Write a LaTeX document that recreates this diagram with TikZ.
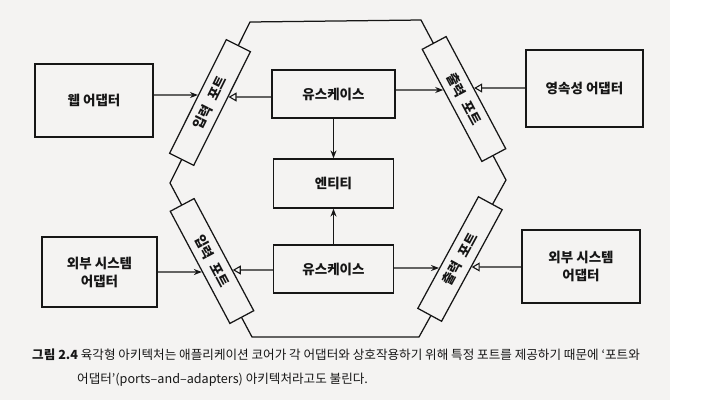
\documentclass[tikz,border=0pt]{standalone}
\usepackage{fontspec}
\setmainfont{Noto Sans CJK KR}
\usetikzlibrary{arrows.meta,intersections,calc}
\definecolor{paper}{RGB}{244,243,242}
\definecolor{ink}{RGB}{22,22,22}
\newcommand\porthit[3]{%
  \path[name path=hpa] (#1.north west)--(#1.north east)--(#1.south east)--(#1.south west)--cycle;
  \path[name path=hpb] (#2) -- (#2 -| #1);
  \path[name intersections={of=hpa and hpb, by=#3}];
}
\newcommand\pgap{\hspace{0.55em}}
\tikzset{
  line/.style={draw=ink, line width=1.25pt},
  box/.style={line, fill=paper, align=center, inner sep=0pt,
    font=\bfseries\fontsize{13.5}{18}\selectfont, text=ink},
  portbox/.style={line, fill=paper, inner sep=0pt, minimum width=127pt, minimum height=27pt,
    font=\bfseries\fontsize{13.5}{16}\selectfont, text=ink},
  usearrow/.style={line, -{Stealth[length=8pt,width=6pt]}},
  implarrow/.style={line, -{Triangle[open,length=8pt,width=9pt,line width=1.1pt]}},
  captext/.style={anchor=west, inner sep=0pt, text=ink, font=\fontsize{12.6}{15}\selectfont},
}
\begin{document}
\begin{tikzpicture}[x=1pt,y=-1pt]
\useasboundingbox (0,0) rectangle (710,400);
\fill[paper] (0,0) rectangle (670,400);
\fill[white] (670,0) rectangle (710,400);

% hexagon
\coordinate (hL) at (170,183);
\coordinate (hTL) at (250,22);
\coordinate (hTR) at (421,20);
\coordinate (hR) at (506,180);
\coordinate (hBR) at (419,337);
\coordinate (hBL) at (252,337);
\draw[line] (hL)--(hTL)--(hTR)--(hR)--(hBR)--(hBL)--cycle;

% core
\node[box, minimum width=123pt, minimum height=48pt] (ucA) at (333.5,94) {유스케이스};
\node[box, minimum width=120pt, minimum height=49pt] (ent) at (333.5,183.5) {엔티티};
\node[box, minimum width=120pt, minimum height=48pt] (ucB) at (333.5,269) {유스케이스};

% ports
\node[portbox, rotate=63.5] (pil) at (210,102.5) {입력\pgap 포트};
\node[portbox, rotate=-62] (pou) at (464,99) {출력\pgap 포트};
\node[portbox, rotate=-62] (pol) at (212,261) {입력\pgap 포트};
\node[portbox, rotate=61.5] (pod) at (460,259) {출력\pgap 포트};

% adapters
\node[box, minimum width=118pt, minimum height=73pt] (web) at (94,100.5) {웹 어댑터};
\node[box, minimum width=115pt, minimum height=70pt] (extL) at (99.5,272) {외부 시스템\\어댑터};
\node[box, minimum width=117pt, minimum height=77pt] (pers) at (584.5,88.5) {영속성 어댑터};
\node[box, minimum width=118pt, minimum height=73pt] (extR) at (581,266.5) {외부 시스템\\어댑터};

% connectors
\coordinate (s1) at (web.east |- 0,95);   \porthit{pil}{s1}{e1}
\coordinate (s2) at (ucA.west |- 0,97);   \porthit{pil}{s2}{e2}
\coordinate (s3) at (ucA.east |- 0,90);   \porthit{pou}{s3}{e3}
\coordinate (s4) at (pers.west |- 0,88);  \porthit{pou}{s4}{e4}
\coordinate (s5) at (extL.east |- 0,272); \porthit{pol}{s5}{e5}
\coordinate (s6) at (ucB.west |- 0,270);  \porthit{pol}{s6}{e6}
\coordinate (s7) at (ucB.east |- 0,268);  \porthit{pod}{s7}{e7}
\coordinate (s8) at (extR.west |- 0,267); \porthit{pod}{s8}{e8}
\draw[usearrow] (s1) -- (e1);
\draw[implarrow] (s2) -- (e2);
\draw[usearrow] (s3) -- (e3);
\draw[implarrow] (s4) -- (e4);
\draw[usearrow] (s5) -- (e5);
\draw[implarrow] (s6) -- (e6);
\draw[usearrow] (s7) -- (e7);
\draw[implarrow] (s8) -- (e8);
\draw[usearrow] (ucA.south) -- (ent.north);
\draw[usearrow] (ucB.north) -- (ent.south);

% caption
\node[captext] (cap1) at (32,355) {\textbf{그림 2.4} 육각형 아키텍처는 애플리케이션 코어가 각 어댑터와 상호작용하기 위해 특정 포트를 제공하기 때문에 ‘포트와};
\node[captext] (cap2) at (77,380) {어댑터’(ports–and–adapters) 아키텍처라고도 불린다.};
\end{tikzpicture}
\end{document}
